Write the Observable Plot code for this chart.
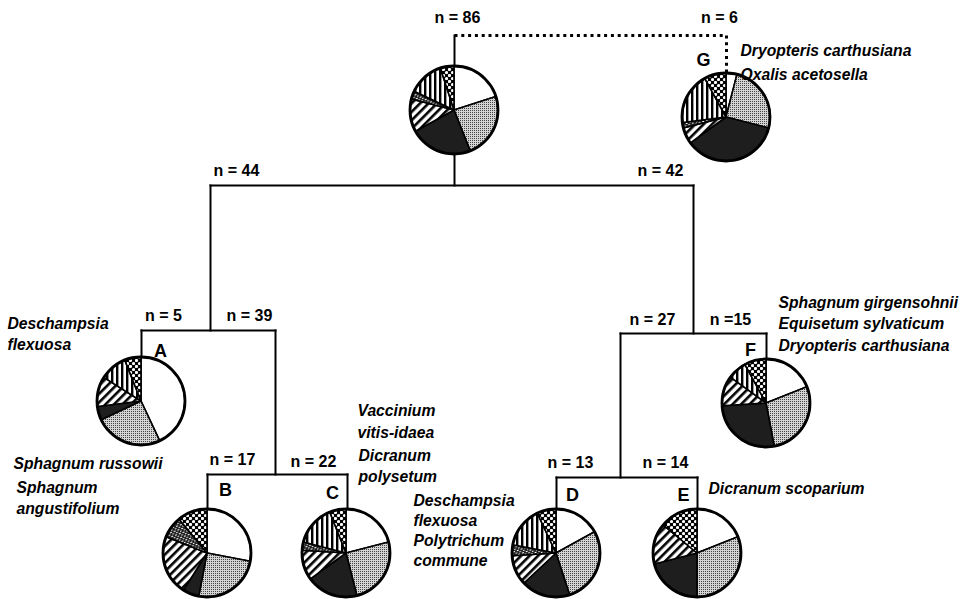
<!DOCTYPE html>
<html>
<head>
<meta charset="utf-8">
<script src="https://cdn.jsdelivr.net/npm/d3@7"></script>
<script src="https://cdn.jsdelivr.net/npm/@observablehq/plot@0.6"></script>
<style>
  html, body { margin: 0; padding: 0; background: #fff; }
  #chart { width: 970px; height: 599px; }
</style>
</head>
<body>
<div id="chart"></div>
<script>
// ---------------- DATA ----------------
// Groups (nodes of the classification tree) and their sizes
const groups = ["root", "G", "A", "B", "C", "D", "E", "F"];
const groupN = [86, 6, 5, 17, 22, 13, 14, 15];
// Pie categories in clockwise order from 12 o'clock
const categories = ["open", "stipple", "dark", "diagonal", "mixed", "vertical", "checker"];
// Shares (%), same order as categories
const sharesRoot = [20, 24, 23, 12, 3, 13, 5];
const sharesG    = [4, 25, 36, 6, 2, 19, 8];
const sharesA    = [43, 25, 5, 11, 0, 10, 6];
const sharesB    = [28, 25, 6, 22, 8, 0, 11];
const sharesC    = [21, 25, 19, 11, 3, 15, 6];
const sharesD    = [17, 28, 18, 11, 4, 15, 7];
const sharesE    = [19, 31, 21, 15, 0, 0, 14];
const sharesF    = [19, 28, 27, 11, 0, 7, 8];
const sharesByGroup = [sharesRoot, sharesG, sharesA, sharesB, sharesC, sharesD, sharesE, sharesF];
// Leaf labels
const leafLetters = ["G", "A", "B", "C", "D", "E", "F"];
// Indicator species text blocks
const speciesG = ["Dryopteris carthusiana", "Oxalis acetosella"];
const speciesA1 = ["Deschampsia", "flexuosa"];
const speciesA2 = ["Sphagnum russowii"];
const speciesA3 = ["Sphagnum", "angustifolium"];
const speciesC1 = ["Vaccinium", "vitis-idaea"];
const speciesC2 = ["Dicranum", "polysetum"];
const speciesD = ["Deschampsia", "flexuosa", "Polytrichum", "commune"];
const speciesE = ["Dicranum scoparium"];
const speciesF = ["Sphagnum girgensohnii", "Equisetum sylvaticum", "Dryopteris carthusiana"];
// Branch sizes (n labels)
const branchN = [86, 6, 44, 42, 5, 39, 17, 22, 27, 15, 13, 14];
const branchNText = ["n = 86", "n = 6", "n = 44", "n = 42", "n = 5", "n = 39", "n = 17", "n = 22", "n = 27", "n =15", "n = 13", "n = 14"];

// ---------------- LAYOUT (positions, not data) ----------------
const pieCX = [454, 726, 141, 207, 346, 556, 697, 766];
const pieCY = [110, 117, 401, 553, 553, 553, 553, 403];
const pieR = 44;
const letterX = [703, 160, 225, 332, 572, 683, 750];
const letterY = [60, 351, 490, 493, 495, 495, 350];
const nLabelX = [457, 719, 236, 660, 163, 249, 232, 313, 652, 730, 570, 665];
const nLabelY = [17, 17, 170, 170, 315, 315, 459, 461, 319, 319, 462, 462];
// tree segments [x1, y1, x2, y2]
const segments = [
  [454, 35, 454, 185],
  [210, 185, 693, 185],
  [210, 185, 210, 330],
  [141, 330, 275, 330],
  [141, 330, 141, 380],
  [275, 330, 275, 474],
  [207, 474, 347, 474],
  [207, 474, 207, 530],
  [347, 474, 347, 530],
  [693, 185, 693, 333],
  [620, 333, 766, 333],
  [766, 333, 766, 380],
  [620, 333, 620, 477],
  [556, 477, 697, 477],
  [556, 477, 556, 530],
  [697, 477, 697, 530]
];
const dashedSegments = [
  [454, 35, 726, 35],
  [726, 35, 726, 90]
];
const speciesBlocks = [
  {lines: speciesG,  x: 740, y: 50,  dy: 24},
  {lines: speciesA1, x: 7,   y: 323, dy: 21},
  {lines: speciesA2, x: 13,  y: 463, dy: 21},
  {lines: speciesA3, x: 16,  y: 487, dy: 21},
  {lines: speciesC1, x: 357, y: 410, dy: 22},
  {lines: speciesC2, x: 358, y: 455, dy: 21},
  {lines: speciesD,  x: 413, y: 500, dy: 20},
  {lines: speciesE,  x: 708, y: 488, dy: 21},
  {lines: speciesF,  x: 778, y: 302, dy: 21.5}
];

// ---------------- BUILD ----------------
const segData = segments.map(([x1, y1, x2, y2]) => ({x1, y1, x2, y2}));
const dashData = dashedSegments.map(([x1, y1, x2, y2]) => ({x1, y1, x2, y2}));
const nData = branchNText.map((t, i) => ({text: t, x: nLabelX[i], y: nLabelY[i]}));
const letterData = leafLetters.map((t, i) => ({text: t, x: letterX[i], y: letterY[i]}));
const speciesData = speciesBlocks.flatMap(b => b.lines.map((t, j) => ({text: t, x: b.x, y: b.y + j * b.dy})));
const pieData = groups.map((g, i) => ({group: g, n: groupN[i], cx: pieCX[i], cy: pieCY[i], shares: sharesByGroup[i]}));

const fills = {
  open: "#ffffff",
  stipple: "url(#pat-stipple)",
  dark: "#1e1e1e",
  diagonal: "url(#pat-diag)",
  mixed: "url(#pat-mixed)",
  vertical: "url(#pat-vert)",
  checker: "url(#pat-check)"
};

function pieMark(index, scales) {
  const sx = scales && scales.x ? scales.x : (v => v);
  const sy = scales && scales.y ? scales.y : (v => v);
  const ns = "http://www.w3.org/2000/svg";
  const g = document.createElementNS(ns, "g");
  g.innerHTML = `
    <defs>
      <pattern id="pat-stipple" width="2" height="2" patternUnits="userSpaceOnUse">
        <rect width="2" height="2" fill="#d4d4d4"/>
        <rect width="1" height="1" fill="#444"/>
      </pattern>
      <pattern id="pat-diag" width="6" height="6" patternUnits="userSpaceOnUse" patternTransform="rotate(45)">
        <rect width="6" height="6" fill="#fff"/>
        <rect width="2.6" height="6" fill="#000"/>
      </pattern>
      <pattern id="pat-vert" width="5" height="5" patternUnits="userSpaceOnUse">
        <rect width="5" height="5" fill="#fff"/>
        <rect width="2.4" height="5" fill="#000"/>
      </pattern>
      <pattern id="pat-check" width="6" height="6" patternUnits="userSpaceOnUse">
        <rect width="6" height="6" fill="#000"/>
        <circle cx="1.5" cy="1.5" r="1.6" fill="#fff"/>
        <circle cx="4.5" cy="4.5" r="1.6" fill="#fff"/>
      </pattern>
      <pattern id="pat-mixed" width="4" height="4" patternUnits="userSpaceOnUse" patternTransform="rotate(-20)">
        <rect width="4" height="4" fill="#222"/>
        <rect width="2" height="1" fill="#fff"/>
        <rect x="2" y="2" width="1.5" height="1" fill="#fff"/>
      </pattern>
    </defs>`;
  const arc = d3.arc().innerRadius(0).outerRadius(pieR);
  const pie = d3.pie().sort(null).value(d => d.value);
  for (const p of pieData) {
    const cg = document.createElementNS(ns, "g");
    cg.setAttribute("transform", `translate(${sx(p.cx)},${sy(p.cy)})`);
    const arcs = pie(categories.map((c, k) => ({cat: c, value: p.shares[k]})));
    for (const a of arcs) {
      if (a.data.value <= 0) continue;
      const path = document.createElementNS(ns, "path");
      path.setAttribute("d", arc(a));
      path.setAttribute("fill", fills[a.data.cat]);
      path.setAttribute("stroke", "#000");
      path.setAttribute("stroke-width", "1.6");
      path.setAttribute("stroke-linejoin", "round");
      cg.appendChild(path);
    }
    const c = document.createElementNS(ns, "circle");
    c.setAttribute("r", pieR);
    c.setAttribute("fill", "none");
    c.setAttribute("stroke", "#000");
    c.setAttribute("stroke-width", "2.8");
    cg.appendChild(c);
    g.appendChild(cg);
  }
  return g;
}

const fontFamily = "'Liberation Sans', Arial, Helvetica, sans-serif";

const chart = Plot.plot({
  width: 970,
  height: 599,
  margin: 0,
  x: {domain: [0, 970], range: [0, 970], axis: null},
  y: {domain: [0, 599], range: [0, 599], axis: null},
  style: {background: "#fff", fontFamily},
  marks: [
    Plot.link(segData, {x1: "x1", y1: "y1", x2: "x2", y2: "y2", stroke: "#000", strokeWidth: 2, strokeLinecap: "square"}),
    Plot.link(dashData, {x1: "x1", y1: "y1", x2: "x2", y2: "y2", stroke: "#000", strokeWidth: 3, strokeDasharray: "3,3.8"}),
    pieMark,
    Plot.text(nData, {x: "x", y: "y", text: "text", fontSize: 16, fontWeight: "bold", fill: "#000", fontFamily}),
    Plot.text(letterData, {x: "x", y: "y", text: "text", fontSize: 18, fontWeight: "bold", fill: "#000", fontFamily}),
    Plot.text(speciesData, {x: "x", y: "y", text: "text", fontSize: 15.7, fontWeight: "bold", fontStyle: "italic", textAnchor: "start", fill: "#000", fontFamily})
  ]
});
document.getElementById("chart").appendChild(chart);
</script>
</body>
</html>
